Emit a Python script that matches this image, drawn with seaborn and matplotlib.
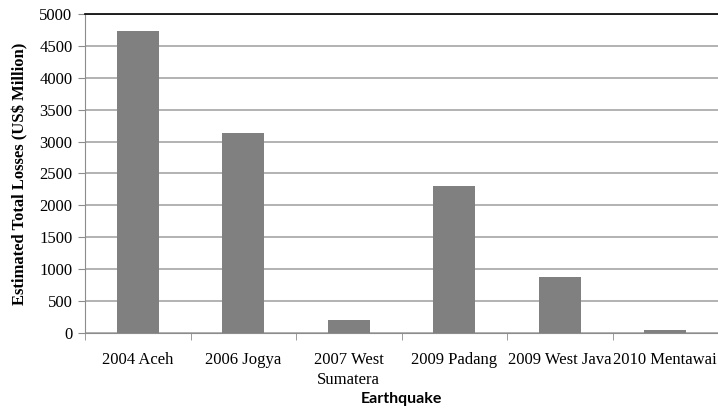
import numpy as np
import pandas as pd
import matplotlib
matplotlib.use("Agg")
import matplotlib.pyplot as plt
from matplotlib.ticker import FixedLocator, MultipleLocator
import seaborn as sns

# Data
earthquakes = ["2004 Aceh", "2006 Jogya", "2007 West\nSumatera", "2009 Padang",
               "2009 West Java", "2010 Mentawai"]
losses = [4740, 3130, 210, 2300, 880, 40]

df = pd.DataFrame({"Earthquake": earthquakes, "Loss": losses})

sns.set_style("white")
plt.rcParams['font.family'] = ['Liberation Serif', 'DejaVu Serif']
plt.rcParams['text.color'] = 'black'
plt.rcParams['xtick.color'] = 'black'
plt.rcParams['ytick.color'] = 'black'
plt.rcParams['axes.labelcolor'] = 'black'

fig = plt.figure(figsize=(7.18, 4.12), dpi=100)
ax = fig.add_axes([85 / 718, 1 - 333 / 412, (718 - 85) / 718, (333 - 14) / 412])

sns.barplot(data=df, x="Earthquake", y="Loss", color="#808080", saturation=1,
            width=0.4, linewidth=0, ax=ax, zorder=3)

ax.set_ylim(0, 5000)
ax.set_xlim(-0.5, len(earthquakes) - 0.5)
ax.yaxis.set_major_locator(MultipleLocator(500))
ax.grid(axis="y", color="#a6a6a6", linewidth=1.2, zorder=0)

# spines
ax.spines["top"].set_color("black")
ax.spines["top"].set_linewidth(1.2)
ax.spines["right"].set_visible(False)
ax.spines["left"].set_color("#8c8c8c")
ax.spines["bottom"].set_color("#8c8c8c")

# ticks: y outward, x at category boundaries
ax.tick_params(axis="y", direction="out", length=5, color="#8c8c8c", left=True,
               labelsize=12, pad=4)
ax.tick_params(axis="x", which="major", length=0, labelsize=12, pad=14)
ax.xaxis.set_minor_locator(FixedLocator(np.arange(-0.5, len(earthquakes), 1.0)))
ax.tick_params(axis="x", which="minor", direction="out", length=5, color="#8c8c8c",
               bottom=True)
for lab in ax.get_xticklabels():
    lab.set_linespacing(1.3)

ax.set_ylabel("Estimated Total Losses (US$ Million)", fontsize=12, fontweight="bold",
              labelpad=8)
ax.set_xlabel("Earthquake", fontsize=11.5, fontweight="bold", family=["Lato", "DejaVu Sans"])
ax.xaxis.set_label_coords(0.5, -0.185)

plt.savefig("out.png", dpi=100)
